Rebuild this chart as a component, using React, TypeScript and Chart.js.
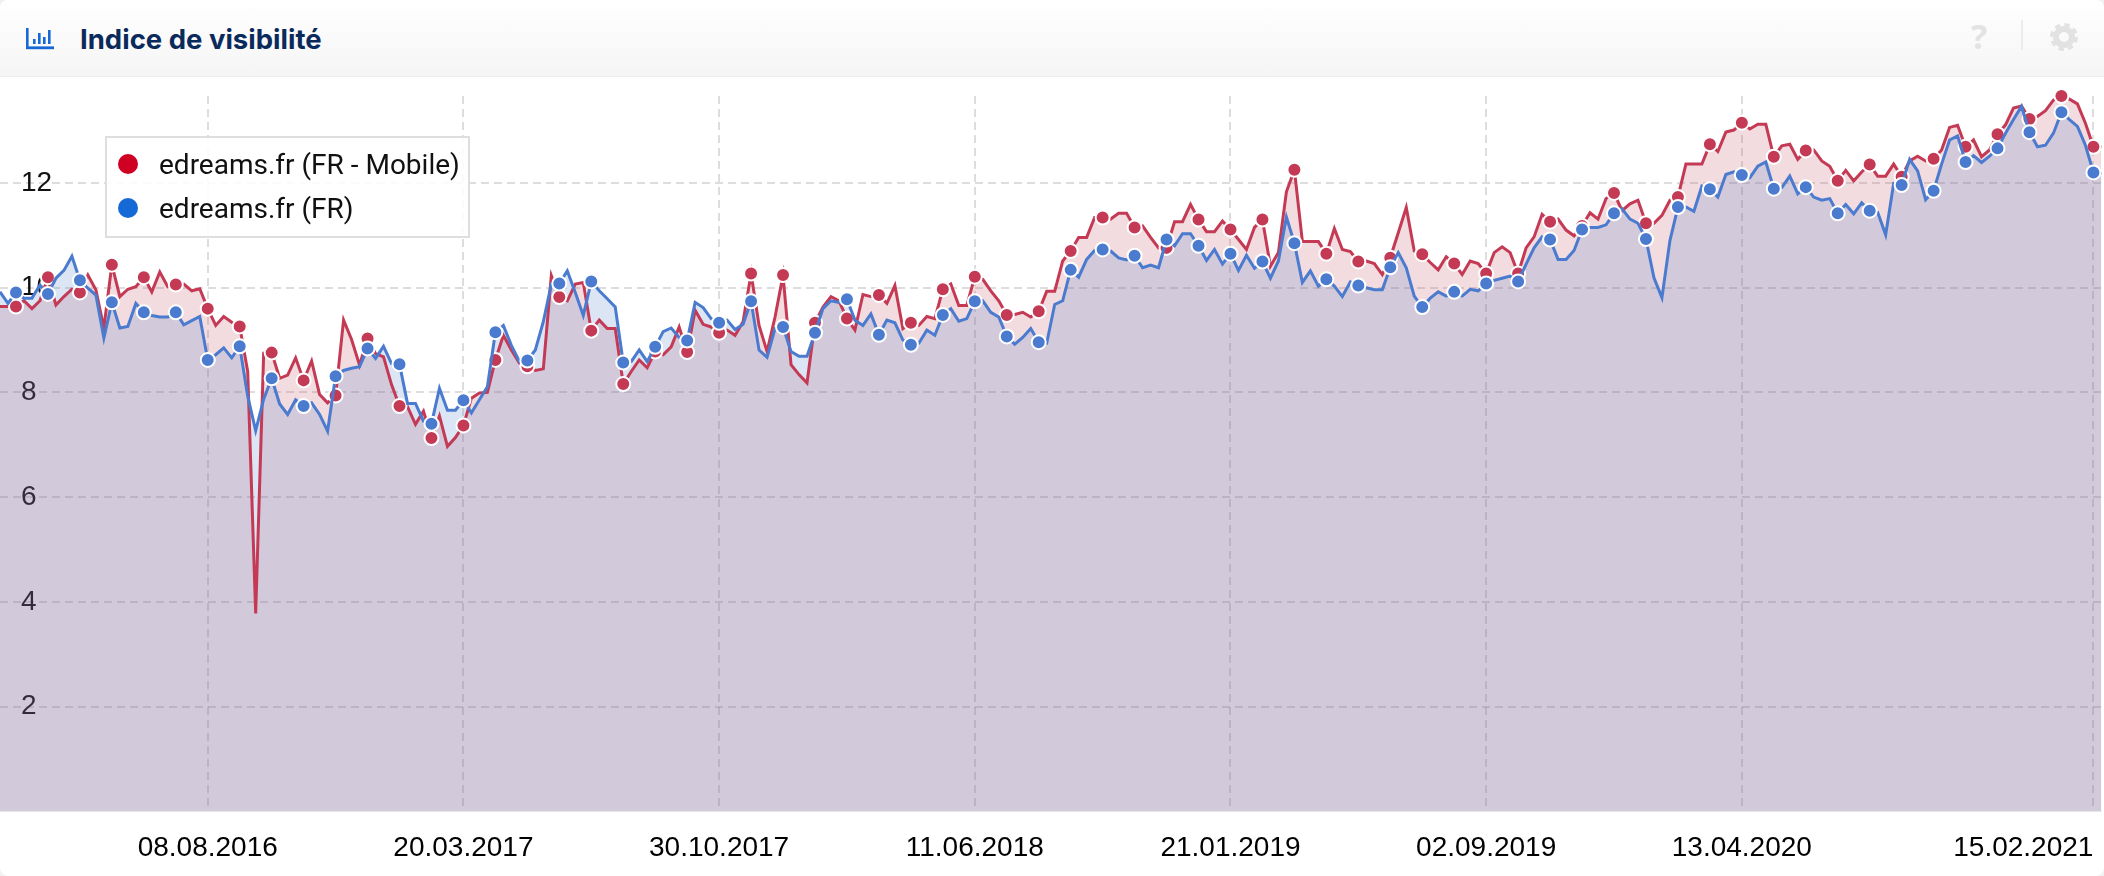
import React, { useEffect, useRef } from "react";
import { Chart, registerables } from "chart.js";

Chart.register(...registerables);

const weeks2016 = "08.02 15.02 22.02 29.02 07.03 14.03 21.03 28.03 04.04 11.04 18.04 25.04 02.05 09.05 16.05 23.05 30.05 06.06 13.06 20.06 27.06 04.07 11.07 18.07 25.07 01.08 08.08 15.08 22.08 29.08 05.09 12.09 19.09 26.09 03.10 10.10 17.10 24.10 31.10 07.11 14.11 21.11 28.11 05.12 12.12 19.12 26.12".split(" ").map((d) => d + ".2016");
const weeks2017 = "02.01 09.01 16.01 23.01 30.01 06.02 13.02 20.02 27.02 06.03 13.03 20.03 27.03 03.04 10.04 17.04 24.04 01.05 08.05 15.05 22.05 29.05 05.06 12.06 19.06 26.06 03.07 10.07 17.07 24.07 31.07 07.08 14.08 21.08 28.08 04.09 11.09 18.09 25.09 02.10 09.10 16.10 23.10 30.10 06.11 13.11 20.11 27.11 04.12 11.12 18.12 25.12".split(" ").map((d) => d + ".2017");
const weeks2018 = "01.01 08.01 15.01 22.01 29.01 05.02 12.02 19.02 26.02 05.03 12.03 19.03 26.03 02.04 09.04 16.04 23.04 30.04 07.05 14.05 21.05 28.05 04.06 11.06 18.06 25.06 02.07 09.07 16.07 23.07 30.07 06.08 13.08 20.08 27.08 03.09 10.09 17.09 24.09 01.10 08.10 15.10 22.10 29.10 05.11 12.11 19.11 26.11 03.12 10.12 17.12 24.12 31.12".split(" ").map((d) => d + ".2018");
const weeks2019 = "07.01 14.01 21.01 28.01 04.02 11.02 18.02 25.02 04.03 11.03 18.03 25.03 01.04 08.04 15.04 22.04 29.04 06.05 13.05 20.05 27.05 03.06 10.06 17.06 24.06 01.07 08.07 15.07 22.07 29.07 05.08 12.08 19.08 26.08 02.09 09.09 16.09 23.09 30.09 07.10 14.10 21.10 28.10 04.11 11.11 18.11 25.11 02.12 09.12 16.12 23.12 30.12".split(" ").map((d) => d + ".2019");
const weeks2020 = "06.01 13.01 20.01 27.01 03.02 10.02 17.02 24.02 02.03 09.03 16.03 23.03 30.03 06.04 13.04 20.04 27.04 04.05 11.05 18.05 25.05 01.06 08.06 15.06 22.06 29.06 06.07 13.07 20.07 27.07 03.08 10.08 17.08 24.08 31.08 07.09 14.09 21.09 28.09 05.10 12.10 19.10 26.10 02.11 09.11 16.11 23.11 30.11 07.12 14.12 21.12 28.12".split(" ").map((d) => d + ".2020");
const weeks2021 = "04.01 11.01 18.01 25.01 01.02 08.02 15.02 22.02".split(" ").map((d) => d + ".2021");
const categories = [...weeks2016, ...weeks2017, ...weeks2018, ...weeks2019, ...weeks2020, ...weeks2021];

const tickLabels = ["08.08.2016", "20.03.2017", "30.10.2017", "11.06.2018", "21.01.2019", "02.09.2019", "13.04.2020", "15.02.2021"];
const yTicks = [2, 4, 6, 8, 10, 12];

const mobileValues = [
  9.64, 9.64, 9.64, 9.75, 9.6, 9.75, 10.2, 9.67, 9.83, 9.97,
  9.91, 10.24, 9.96, 9.23, 10.44, 9.83, 9.97, 10.02, 10.2, 9.92,
  10.3, 10.02, 10.06, 10.07, 9.94, 9.98, 9.6, 9.28, 9.45, 9.34,
  9.26, 8.4, 3.78, 8.75, 8.76, 8.27, 8.33, 8.66, 8.23, 8.6,
  7.96, 7.8, 7.94, 9.38, 9.01, 8.52, 9.03, 8.74, 8.68, 8.15,
  7.74, 7.73, 7.39, 7.64, 7.13, 7.55, 6.97, 7.14, 7.37, 7.89,
  7.99, 8.0, 8.62, 9.09, 8.81, 8.56, 8.5, 8.42, 8.45, 10.23,
  9.82, 9.75, 10.07, 10.1, 9.18, 9.38, 9.22, 9.22, 8.16, 8.4,
  8.62, 8.47, 8.78, 8.72, 8.87, 9.25, 8.77, 9.57, 9.3, 9.25,
  9.14, 9.19, 9.09, 9.35, 10.27, 9.28, 8.78, 9.44, 10.24, 8.53,
  8.34, 8.18, 9.33, 9.63, 9.83, 9.75, 9.41, 9.19, 9.87, 9.83,
  9.86, 9.7, 10.04, 9.22, 9.33, 9.28, 9.45, 9.41, 9.97, 10.07,
  9.66, 9.66, 10.21, 10.16, 9.94, 9.75, 9.48, 9.49, 9.53, 9.44,
  9.55, 9.93, 9.93, 10.51, 10.7, 10.96, 10.96, 11.34, 11.34, 11.31,
  11.42, 11.42, 11.15, 11.18, 10.96, 10.76, 10.76, 11.26, 11.26, 11.59,
  11.3, 11.07, 11.07, 11.27, 11.11, 10.92, 10.73, 11.15, 11.3, 10.41,
  10.67, 11.83, 12.25, 10.88, 10.88, 10.88, 10.65, 11.13, 10.73, 10.69,
  10.5, 10.51, 10.46, 10.25, 10.57, 11.05, 11.53, 10.7, 10.64, 10.48,
  10.34, 10.59, 10.46, 10.25, 10.51, 10.46, 10.27, 10.67, 10.78, 10.67,
  10.27, 10.76, 10.97, 11.4, 11.26, 11.31, 11.1, 10.99, 11.18, 11.43,
  11.31, 11.7, 11.81, 11.47, 11.6, 11.67, 11.23, 11.23, 11.38, 11.67,
  11.73, 12.36, 12.36, 12.36, 12.74, 12.6, 12.97, 13.01, 13.15, 13.03,
  13.12, 13.12, 12.5, 12.71, 12.74, 12.45, 12.62, 12.63, 12.42, 12.32,
  12.04, 12.24, 12.04, 12.21, 12.35, 12.13, 12.13, 12.36, 12.12, 12.42,
  12.51, 12.42, 12.46, 12.63, 13.06, 13.1, 12.69, 12.82, 12.5, 12.63,
  12.93, 13.11, 13.43, 13.47, 13.22, 13.27, 13.38, 13.58, 13.66, 13.6,
  13.51, 13.14, 12.69, 12.69,
];

const desktopValues = [
  9.92, 9.7, 9.91, 9.8, 9.8, 10.05, 9.88, 10.18, 10.33, 10.6,
  10.14, 9.99, 9.86, 9.04, 9.72, 9.23, 9.26, 9.7, 9.53, 9.47,
  9.44, 9.44, 9.53, 9.29, 9.37, 9.45, 8.62, 8.72, 8.85, 8.66,
  8.88, 7.93, 7.27, 7.87, 8.27, 7.78, 7.58, 7.86, 7.74, 7.8,
  7.58, 7.26, 8.31, 8.42, 8.46, 8.49, 8.84, 8.65, 8.88, 8.55,
  8.54, 7.79, 7.79, 7.45, 7.4, 8.08, 7.66, 7.66, 7.85, 7.61,
  7.86, 8.11, 9.15, 9.28, 8.9, 8.59, 8.61, 8.81, 9.35, 10.07,
  10.08, 10.32, 9.91, 9.47, 10.12, 9.94, 9.79, 9.63, 8.57, 8.59,
  8.81, 8.59, 8.87, 9.16, 9.23, 9.05, 8.99, 9.72, 9.62, 9.41,
  9.33, 9.38, 9.2, 9.3, 9.74, 8.81, 8.67, 9.22, 9.25, 8.78,
  8.69, 8.69, 9.14, 9.6, 9.75, 9.72, 9.78, 9.38, 9.28, 9.5,
  9.1, 9.38, 9.33, 9.0, 8.91, 8.94, 9.19, 9.09, 9.48, 9.6,
  9.36, 9.41, 9.74, 9.75, 9.53, 9.44, 9.07, 8.92, 9.05, 9.22,
  8.96, 8.94, 9.68, 9.75, 10.34, 10.2, 10.54, 10.71, 10.73, 10.7,
  10.57, 10.53, 10.61, 10.38, 10.43, 10.38, 10.92, 10.8, 11.03, 11.03,
  10.8, 10.52, 10.73, 10.45, 10.65, 10.33, 10.62, 10.37, 10.5, 10.18,
  10.51, 11.35, 10.85, 10.1, 10.32, 10.03, 10.16, 10.03, 9.83, 10.11,
  10.04, 10.0, 9.96, 9.96, 10.39, 10.67, 10.38, 9.84, 9.63, 9.8,
  9.92, 9.84, 9.92, 9.84, 9.97, 9.94, 10.08, 10.14, 10.18, 10.22,
  10.12, 10.45, 10.76, 10.97, 10.92, 10.54, 10.54, 10.71, 11.11, 11.15,
  11.15, 11.2, 11.42, 11.51, 11.31, 11.23, 10.93, 10.19, 9.81, 10.9,
  11.54, 11.54, 11.46, 11.94, 11.88, 11.73, 12.16, 12.21, 12.15, 12.1,
  12.32, 12.4, 11.89, 11.91, 12.13, 11.79, 11.92, 11.73, 11.67, 11.7,
  11.42, 11.59, 11.41, 11.62, 11.47, 11.44, 11.01, 11.99, 11.96, 12.45,
  12.23, 11.68, 11.85, 12.36, 12.82, 12.9, 12.4, 12.52, 12.39, 12.51,
  12.66, 12.95, 13.21, 13.46, 12.97, 12.69, 12.72, 12.95, 13.35, 13.21,
  13.08, 12.72, 12.2, 12.18,
];

const seriesNames = ["edreams.fr (FR - Mobile)", "edreams.fr (FR)"];
const legendColors = ["#cf0022", "#1469d6"];
const lineColors = ["#c43a55", "#4a7bcf"];
const fillColors = ["rgba(190,60,80,0.18)", "rgba(74,123,200,0.2)"];
const titleText = "Indice de visibilité";

const GRID = "rgba(0,0,0,0.135)";
const tickSet = new Set(tickLabels);

export default function App() {
  const ref = useRef<HTMLCanvasElement>(null);
  useEffect(() => {
    document.body.style.margin = "0";
    document.body.style.background = "#f1f1f1";
    document.body.style.overflow = "hidden";
    const markerRadius = (ctx: any) => (ctx.dataIndex % 4 === 2 ? 7 : 0);
    const chart = new Chart(ref.current!, {
      type: "line",
      data: {
        labels: categories,
        datasets: [
          {
            label: seriesNames[0],
            data: mobileValues,
            order: 2,
            borderColor: lineColors[0],
            backgroundColor: fillColors[0],
            fill: "origin",
            borderWidth: 3,
            tension: 0,
            clip: false as any,
            pointRadius: markerRadius,
            pointHoverRadius: markerRadius,
            pointBackgroundColor: lineColors[0],
            pointBorderColor: "#ffffff",
            pointBorderWidth: 2,
          },
          {
            label: seriesNames[1],
            data: desktopValues,
            order: 1,
            borderColor: lineColors[1],
            backgroundColor: fillColors[1],
            fill: "origin",
            borderWidth: 3,
            tension: 0,
            clip: false as any,
            pointRadius: markerRadius,
            pointHoverRadius: markerRadius,
            pointBackgroundColor: lineColors[1],
            pointBorderColor: "#ffffff",
            pointBorderWidth: 2,
          },
        ],
      },
      options: {
        animation: false,
        responsive: false,
        devicePixelRatio: 1,
        layout: { padding: { top: 19, right: 2.6, left: 0, bottom: 2 } },
        plugins: {
          legend: { display: false },
          title: { display: false },
          tooltip: { enabled: false },
          filler: { drawTime: "beforeDatasetsDraw" },
        } as any,
        scales: {
          x: {
            type: "category",
            offset: false,
            afterBuildTicks: (scale: any) => {
              scale.ticks = scale.ticks.filter(
                (t: any) => t.value === 0 || tickSet.has(categories[t.value])
              );
            },
            afterFit: (scale: any) => {
              scale.paddingLeft = 0;
              scale.paddingRight = 0;
            },
            ticks: {
              autoSkip: false,
              maxRotation: 0,
              align: "inner",
              padding: 20.5,
              color: "#000000",
              font: { family: "'Liberation Sans', Arial", size: 28 },
              callback: (v: any) => (tickSet.has(categories[v]) ? categories[v] : ""),
            },
            grid: {
              color: (ctx: any) => (ctx.index === 0 ? "rgba(0,0,0,0)" : GRID),
              lineWidth: 2,
              drawTicks: false,
              tickLength: 0,
            } as any,
            border: { display: true, color: "rgba(0,0,0,0.08)", width: 1, dash: [8, 5], dashOffset: 0 } as any,
          },
          y: {
            min: 0,
            max: 13.66,
            afterBuildTicks: (scale: any) => {
              scale.ticks = yTicks.map((value) => ({ value }));
            },
            afterFit: (scale: any) => {
              scale.width = 0;
              scale.paddingTop = 0;
              scale.paddingBottom = 0;
            },
            ticks: {
              mirror: true,
              padding: 21,
              color: "#111111",
              font: { family: "'Liberation Sans', Arial", size: 28 },
            },
            grid: { color: GRID, lineWidth: 2, drawTicks: false, tickLength: 0 } as any,
            border: { display: false, dash: [8, 5] } as any,
          },
        },
      },
    });
    return () => chart.destroy();
  }, []);

  return (
    <div style={{ position: "relative", width: 2104, height: 876, background: "#fff", borderRadius: 8, overflow: "hidden" }}>
      <div style={{ position: "absolute", left: 0, top: 0, width: 2104, height: 76, background: "linear-gradient(#ffffff, #f5f5f5)", borderBottom: "1px solid #ececec" }}>
        <svg width="30" height="24" style={{ position: "absolute", left: 25, top: 27 }}>
          <rect x="1" y="1" width="2.6" height="21" fill="#1469d6" />
          <rect x="1" y="19.4" width="28" height="2.8" fill="#1469d6" />
          <rect x="8" y="12" width="2.6" height="5" fill="#1469d6" />
          <rect x="13" y="6" width="2.6" height="11" fill="#1469d6" />
          <rect x="18" y="10" width="2.6" height="7" fill="#1469d6" />
          <rect x="23" y="3" width="2.6" height="14" fill="#1469d6" />
        </svg>
        <div style={{ position: "absolute", left: 80, top: 21, fontFamily: "Inter", fontWeight: 700, fontSize: 27.5, lineHeight: "36px", color: "#0b2a5c", whiteSpace: "nowrap" }}>{titleText}</div>
        <div style={{ position: "absolute", left: 1971, top: 15, fontFamily: "'Open Sans'", fontWeight: 700, fontSize: 34, lineHeight: "42px", color: "#e3e3e3" }}>?</div>
        <div style={{ position: "absolute", left: 2021, top: 20, width: 2, height: 30, background: "#ececec" }} />
        <svg width="30" height="30" viewBox="0 0 30 30" style={{ position: "absolute", left: 2049, top: 22 }}>
          <circle cx="15" cy="15" r="8" fill="none" stroke="#e2e2e2" strokeWidth="6" />
          <circle cx="15" cy="15" r="11.5" fill="none" stroke="#e2e2e2" strokeWidth="5" strokeDasharray="5 4.03" />
        </svg>
      </div>
      <canvas ref={ref} width={2104} height={811} style={{ position: "absolute", left: 0, top: 77, display: "block", width: 2104, height: 811 }} />
      <div style={{ position: "absolute", left: 105, top: 136, width: 361, height: 98, border: "2px solid #dedede", background: "rgba(255,255,255,0.88)" }}>
        {seriesNames.map((name, i) => (
          <div key={name} style={{ position: "absolute", left: 0, top: 4 + i * 44, height: 44, width: 357, display: "flex", alignItems: "center" }}>
            <span style={{ marginLeft: 11, width: 20, height: 20, borderRadius: 10, background: legendColors[i], flex: "none" }} />
            <span style={{ marginLeft: 21, fontFamily: "Roboto", fontSize: 28, color: "#111", whiteSpace: "nowrap" }}>{name}</span>
          </div>
        ))}
      </div>
    </div>
  );
}
